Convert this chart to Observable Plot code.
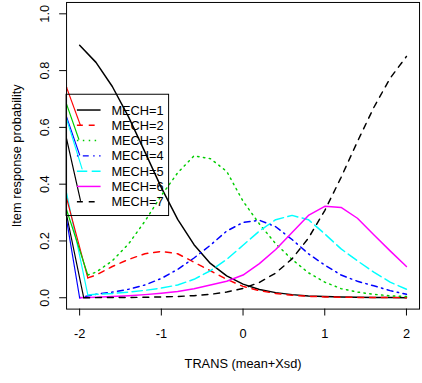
<!DOCTYPE html>
<html>
<head>
<meta charset="utf-8">
<script src="https://cdn.jsdelivr.net/npm/d3@7"></script>
<script src="https://cdn.jsdelivr.net/npm/@observablehq/plot@0.6"></script>
<style>
  html, body { margin: 0; padding: 0; overflow: hidden; background: #fff; }
  #chart svg { display: block; }
</style>
</head>
<body>
<div id="chart"></div>
<script>
// Trait grid (TRANS, in mean + X sd)
const grid = [-2, -1.8, -1.6, -1.4, -1.2, -1, -0.8, -0.6, -0.4, -0.2, 0,
              0.2, 0.4, 0.6, 0.8, 1, 1.2, 1.4, 1.6, 1.8, 2];

// Category response probabilities; the first value sits at startX, the rest on the grid
const labels = ["MECH=1", "MECH=2", "MECH=3", "MECH=4", "MECH=5", "MECH=6", "MECH=7"];
const startX = [-2, -1.9, -1.9, -2, -1.9, -2, -1.95];
const mech1 = [0.889, 0.829, 0.744, 0.636, 0.513, 0.388, 0.276, 0.187, 0.121, 0.077, 0.048,
               0.029, 0.018, 0.011, 0.0065, 0.004, 0.0024, 0.0014, 0.0009, 0.0005, 0.0003];
const mech2 = [0.07, 0.08, 0.11, 0.135, 0.155, 0.163, 0.155, 0.125, 0.095, 0.065, 0.04,
               0.025, 0.015, 0.009, 0.005, 0.003, 0.002, 0.001, 0.001, 0.0005, 0.0003];
const mech3 = [0.08, 0.09, 0.13, 0.19, 0.27, 0.36, 0.44, 0.50, 0.49, 0.445, 0.34,
               0.26, 0.19, 0.135, 0.088, 0.055, 0.032, 0.02, 0.012, 0.007, 0.004];
const mech4 = [0, 0.012, 0.02, 0.03, 0.045, 0.068, 0.10, 0.14, 0.185, 0.235, 0.265,
               0.273, 0.25, 0.205, 0.155, 0.115, 0.08, 0.058, 0.042, 0.025, 0.012];
const mech5 = [0.01, 0.012, 0.015, 0.02, 0.026, 0.034, 0.045, 0.065, 0.095, 0.135, 0.185,
               0.235, 0.275, 0.29, 0.275, 0.225, 0.172, 0.13, 0.09, 0.055, 0.03];
const mech6 = [0, 0.002, 0.004, 0.007, 0.011, 0.016, 0.022, 0.032, 0.045, 0.058, 0.08,
               0.12, 0.17, 0.23, 0.29, 0.322, 0.318, 0.28, 0.222, 0.165, 0.11];
const mech7 = [0, 0.0004, 0.0006, 0.001, 0.0016, 0.0027, 0.0045, 0.0074, 0.012, 0.02, 0.033,
               0.054, 0.087, 0.137, 0.21, 0.307, 0.424, 0.55, 0.67, 0.773, 0.85];
const curves = [mech1, mech2, mech3, mech4, mech5, mech6, mech7];

// Stray leader segments entering from the left border (series number, value at border, end point)
const upperLeadSeries = [2, 3, 4, 5, 7];
const upperLeadEdge = [0.741, 0.682, 0.637, 0.63, 0.56];
const upperLeadEndX = [-1.99, -2.01, -2.0, -1.97, -1.99];
const upperLeadEndY = [0.607, 0.558, 0.503, 0.454, 0.343];
const lowerLeadSeries = [5, 2, 3, 7, 4];
const lowerLeadEdge = [0.369, 0.351, 0.31, 0.292, 0.275];
const lowerLeadEndX = [-1.9, -1.9, -1.9, -1.95, -2.0];
const lowerLeadEndY = [0.01, 0.07, 0.08, 0, 0];

// Axis ticks
const xTicks = [-2, -1, 0, 1, 2];
const yTicks = [0, 0.2, 0.4, 0.6, 0.8, 1.0];
const xDomain = [-2.16, 2.16];
const yDomain = [-0.04, 1.04];

// Line styles (R palette and lty 1..5, then 2 again)
const colors = ["black", "#FF0000", "#00CD00", "#0000FF", "#00FFFF", "#FF00FF", "black"];
const dashes = [null, "6,6", "1.5,4.5", "1.5,4.5,6,4.5", "10.5,4.5", null, "6,6"];

const rows = curves.map((vals, s) =>
  vals.map((v, i) => ({x: i === 0 ? startX[s] : grid[i], y: v}))
);

const leads = [];
upperLeadSeries.forEach((s, i) => leads.push({s, pts: [{x: xDomain[0], y: upperLeadEdge[i]}, {x: upperLeadEndX[i], y: upperLeadEndY[i]}]}));
lowerLeadSeries.forEach((s, i) => leads.push({s, pts: [{x: xDomain[0], y: lowerLeadEdge[i]}, {x: lowerLeadEndX[i], y: lowerLeadEndY[i]}]}));

const font = "'Liberation Sans', Arial, Helvetica, sans-serif";
const fs = 13;

const plot = Plot.plot({
  width: 428,
  height: 383,
  marginLeft: 67,
  marginRight: 3,
  marginTop: 2,
  marginBottom: 70,
  style: {fontFamily: font, fontSize: fs + "px", color: "black", background: "white"},
  x: {domain: xDomain},
  y: {domain: yDomain},
  marks: [
    ...rows.map((r, s) => Plot.line(r, {
      x: "x", y: "y", stroke: colors[s], strokeWidth: 1.5,
      strokeDasharray: dashes[s] ?? undefined, clip: true
    })),
    ...leads.map(l => Plot.line(l.pts, {
      x: "x", y: "y", stroke: colors[l.s - 1], strokeWidth: 1.2, clip: true
    })),
    Plot.frame({stroke: "black"}),
    Plot.axisX({ticks: xTicks, tickSize: 7, tickFormat: () => "", label: null}),
    Plot.axisY({ticks: yTicks, tickSize: 7, tickFormat: () => "", label: null}),
    Plot.text(xTicks, {x: d => d, text: d => String(d), frameAnchor: "bottom", dy: 25,
      textAnchor: "middle", lineAnchor: "middle", fontSize: fs}),
    Plot.text(yTicks, {y: d => d, text: d => d.toFixed(1), frameAnchor: "left", dx: -22, rotate: -90,
      textAnchor: "middle", lineAnchor: "middle", fontSize: fs}),
    Plot.text(["TRANS (mean+Xsd)"], {text: d => d, frameAnchor: "bottom", dy: 56,
      textAnchor: "middle", lineAnchor: "middle", fontSize: fs}),
    Plot.text(["Item response probability"], {text: d => d, frameAnchor: "left", dx: -50, rotate: -90,
      textAnchor: "middle", lineAnchor: "middle", fontSize: fs})
  ]
});

document.getElementById("chart").appendChild(plot);

// Legend box in the upper-left of the panel, placed from the scales
const sx = plot.scale("x"), sy = plot.scale("y");
const lx = sx.apply(xDomain[0]);
const ly = sy.apply(0.715);
const rowH = 15.5;
const g = d3.select(plot).append("g")
  .attr("font-family", font).attr("font-size", fs).attr("text-anchor", "start");
g.append("rect")
  .attr("x", lx).attr("y", ly)
  .attr("width", 104).attr("height", 123)
  .attr("fill", "none").attr("stroke", "black");
labels.forEach((lab, i) => {
  const cy = ly + 16 + rowH * i;
  g.append("line")
    .attr("x1", lx + 11).attr("x2", lx + 35)
    .attr("y1", cy).attr("y2", cy)
    .attr("stroke", colors[i]).attr("stroke-width", 1.5)
    .attr("stroke-dasharray", dashes[i]);
  g.append("text")
    .attr("x", lx + 46).attr("y", cy).attr("dy", "0.36em")
    .attr("fill", "black").text(lab);
});
</script>
</body>
</html>
